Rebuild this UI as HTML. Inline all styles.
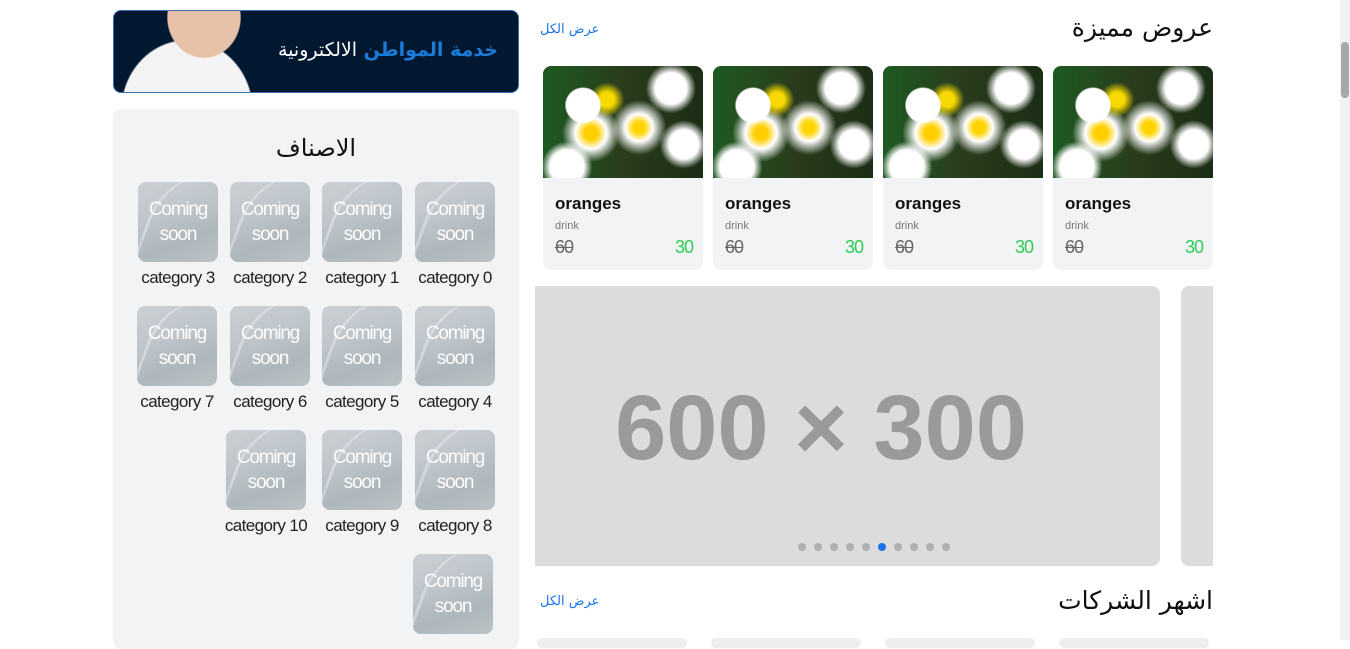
<!DOCTYPE html>
<html><head><meta charset="utf-8">
<style>
*{margin:0;padding:0;box-sizing:border-box}
body{width:1350px;height:640px;overflow:hidden;background:#fff;font-family:"Liberation Sans","Noto Sans CJK SC",sans-serif;position:relative}
.abs{position:absolute}
.cat{position:absolute;width:80px;height:80px;border-radius:8px;background:linear-gradient(160deg,#c9ced3 0%,#bcc3c9 40%,#aab4ba 70%,#b9c1c4 100%);overflow:hidden;color:#fff;text-align:center;font-size:19px;line-height:25px;padding-top:15px;opacity:.95;letter-spacing:-1.2px}
.cat::before{content:"";position:absolute;left:10px;top:-10px;width:90px;height:110px;border-left:3px solid rgba(255,255,255,.35);border-radius:60% 0 0 0;transform:rotate(20deg)}
.catl{position:absolute;width:100px;text-align:center;font-size:17px;color:#222;letter-spacing:-0.6px}
.card{position:absolute;top:66px;width:160px;height:204px;background:#f2f3f5;border-radius:8px;overflow:hidden}
.img{height:112px;background:radial-gradient(circle at 25% 35%,#fff 0 12%,transparent 13%),radial-gradient(circle at 40% 30%,#f7d800 0 6%,transparent 14%),radial-gradient(circle at 60% 55%,#ffd400 0 5%,#fff 12%,transparent 24%),radial-gradient(circle at 30% 60%,#ffcf00 0 5%,#fff 12%,transparent 22%),radial-gradient(circle at 80% 20%,#fff 0 10%,transparent 16%),radial-gradient(circle at 15% 90%,#fff 0 10%,transparent 15%),radial-gradient(circle at 88% 70%,#fff 0 9%,transparent 15%),linear-gradient(90deg,#1d5a22,#2a3c1c 50%,#1b2d15)}
.nm{position:absolute;left:12px;top:128px;font-size:17px;font-weight:bold;color:#111}
.dr{position:absolute;left:12px;top:154px;font-size:11px;color:#777}
.old{position:absolute;left:12px;top:171px;font-size:18px;color:#666;text-decoration:line-through;letter-spacing:-1px}
.new{position:absolute;right:10px;top:171px;font-size:18px;color:#2ecc55;letter-spacing:-1px}
.dot{position:absolute;top:543px;width:8px;height:8px;border-radius:50%;background:#b0b0b0}
.ar{font-family:'DejaVu Sans',sans-serif}
</style></head><body>
<div class="abs" style="left:113px;top:10px;width:406px;height:83px;background:#011830;border-radius:8px;border:1px solid #3a6fb0;overflow:hidden">
 <div class="abs" style="left:5px;top:-10px;width:170px;height:110px;background:radial-gradient(ellipse at 50% 15%,#e8c2a8 0 30%,transparent 31%),radial-gradient(ellipse at 40% 100%,#f4f4f4 0 45%,transparent 46%)"></div>
 <div class="abs ar" style="right:20px;top:28px;font-size:19px;font-weight:bold;color:#fff;direction:rtl"><span style="color:#1a7bd8">خدمة المواطن</span> <span style="font-weight:normal">الالكترونية</span></div>
</div>
<div class="abs" style="left:113px;top:109px;width:406px;height:540px;background:#f2f3f5;border-radius:8px"></div>
<div class="abs ar" style="left:113px;top:134px;width:406px;text-align:center;font-size:24px;color:#111">الاصناف</div>
<div id="cats"></div>
<div class="abs ar" style="right:137px;top:13px;font-size:25px;color:#111">عروض مميزة</div>
<div class="abs ar" style="left:540px;top:22px;font-size:13px;color:#1a73e8">عرض الكل</div>
<div id="cards"></div>
<div class="abs" style="left:535px;top:286px;width:625px;height:280px;background:#dcdcdc;border-radius:0 8px 8px 0"><div style="position:absolute;left:0;width:572px;top:90px;text-align:center;font-size:92px;font-weight:bold;color:#9a9a9a">600 × 300</div></div>
<div class="abs" style="left:1181px;top:286px;width:32px;height:280px;background:#dcdcdc;border-radius:8px 0 0 8px"></div>
<div id="dots"></div>
<div class="abs ar" style="right:137px;top:586px;font-size:25px;color:#111">اشهر الشركات</div>
<div class="abs ar" style="left:540px;top:594px;font-size:13px;color:#1a73e8">عرض الكل</div>
<div class="abs" style="left:537px;top:638px;width:150px;height:10px;background:#eee;border-radius:6px"></div>
<div class="abs" style="left:711px;top:638px;width:150px;height:10px;background:#eee;border-radius:6px"></div>
<div class="abs" style="left:885px;top:638px;width:150px;height:10px;background:#eee;border-radius:6px"></div>
<div class="abs" style="left:1059px;top:638px;width:150px;height:10px;background:#eee;border-radius:6px"></div>
<div class="abs" style="left:1340px;top:0;width:10px;height:640px;background:#f1f1f1"></div>
<div class="abs" style="left:1341px;top:42px;width:8px;height:56px;background:#a8a8a8;border-radius:4px"></div>
<script>
const catX=[[415,322,230,138],[415,322,230,137],[415,322,226],[413]];
const catY=[182,306,430,554];
let n=0,h='';
catX.forEach((row,r)=>row.forEach(x=>{
 h+=`<div class="cat" style="left:${x}px;top:${catY[r]}px">Coming<br>soon</div>`;
 if(catY[r]<550)h+=`<div class="catl" style="left:${x-10}px;top:${catY[r]+86}px">category ${n}</div>`;
 n++;}));
document.getElementById('cats').innerHTML=h;
const cardX=[1053,883,713,543];h='';
cardX.forEach((x,i)=>{h+=`<div class="card" style="left:${x}px"><div class="img"></div><div class="nm">oranges</div><div class="dr">drink</div><div class="old">60</div><div class="new">30</div></div>`;});
document.getElementById('cards').innerHTML=h;
h='';for(let i=0;i<10;i++){h+=`<div class="dot" style="left:${798+i*16}px;${i==5?'background:#1a73e8':''}"></div>`;}
document.getElementById('dots').innerHTML=h;
</script>
</body></html>
